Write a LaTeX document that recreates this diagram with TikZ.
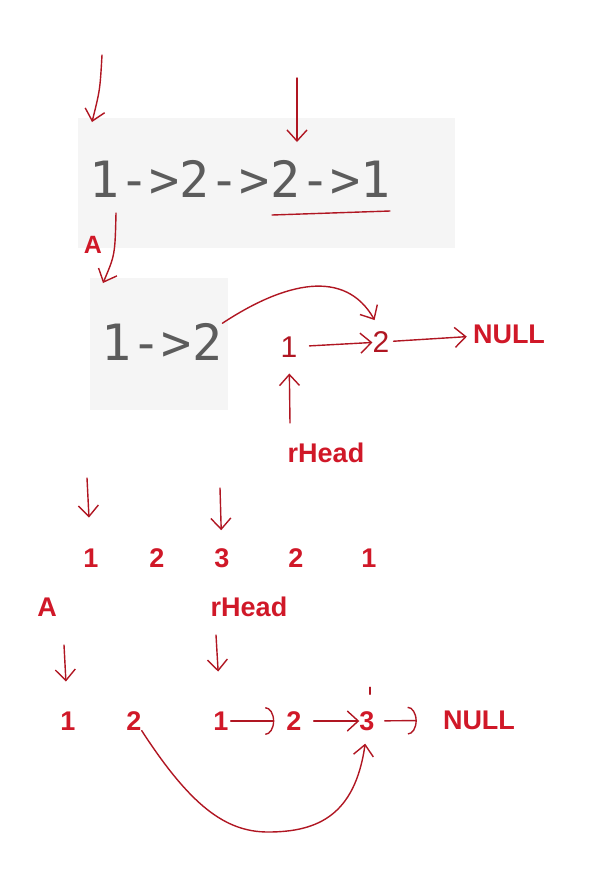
\documentclass[tikz,border=0pt]{standalone}
\usepackage{fontspec}
\setmainfont{Liberation Sans}
\newfontfamily\codefont{DejaVu Sans Mono}
\usetikzlibrary{arrows.meta,positioning}
\definecolor{inkred}{RGB}{176,22,34}
\definecolor{labelred}{RGB}{208,24,40}
\definecolor{codegray}{RGB}{92,92,92}
\definecolor{panelgray}{RGB}{245,245,245}
\tikzset{
  code text/.style={text=codegray, inner sep=0pt,
    font=\codefont\fontsize{50}{52}\selectfont},
  red label/.style={text=labelred, inner sep=0pt,
    font=\bfseries\fontsize{27}{30}\selectfont},
  hand digit/.style={text=inkred, inner sep=0pt,
    font=\fontsize{30}{32}\selectfont},
  hand line/.style={inkred, line width=1.4pt, line cap=round},
  hand arrow/.style={hand line, -{Straight Barb[length=11pt,width=20pt]}},
  hook arrow/.style={hand line, -{Arc Barb[length=9pt,width=28pt]}},
  panel/.style={fill=panelgray, draw=none}
}

\begin{document}
\begin{tikzpicture}[x=1pt,y=-1pt]
  \useasboundingbox (0,0) rectangle (590,879);
  % faint screenshot panels
  \fill[panel] (78,118) rectangle (455,248);
  \fill[panel] (90,278) rectangle (228,410);

  % original list
  \node[code text] (list) at (240,179) {1->2->2->1};
  \coordinate (headtail) at (102,55);
  \coordinate (headtip) at (92,122);
  \coordinate (midtail) at (297,78);
  \coordinate (midtip) at (297,142);
  \coordinate (ulstart) at (272,215);
  \coordinate (ulend) at (390,211);
  \draw[hand arrow] (headtail) .. controls (100,90) .. (headtip);
  \draw[hand arrow] (midtail) -- (midtip);
  \draw[hand line] (ulstart) -- (ulend);

  % split at the middle, second half reversed
  \node[red label, font=\bfseries\fontsize{25}{28}\selectfont] (A1) at (93,245) {A};
  \coordinate (atail) at (116,213);
  \coordinate (atip) at (103,283);
  \draw[hand arrow] (atail) .. controls (115,255) .. (atip);
  \node[code text] (half) at (162,342) {1->2};
  \node[hand digit] (r1) at (289,347) {1};
  \node[hand digit] (r2) at (381,342) {2};
  \node[red label] (null1) at (509,334) {NULL};
  \node[red label] (rhead1) at (326,453) {rHead};
  \coordinate (rtail) at (290,423);
  \draw[hand arrow, shorten <=12pt] (r1) -- (r2);
  \draw[hand arrow, shorten <=4pt, shorten >=6pt] (r2) -- (null1);
  \draw[hand arrow, shorten >=16pt] (rtail) -- (r1);
  \draw[hand arrow, shorten >=13pt] (half.north east)
    .. controls (285,282) and (345,268) .. (r2.north);

  % odd length: 1 2 3 2 1
  \node[red label] (s1) at (91,558) {1};
  \node[red label] (s2) at (157,558) {2};
  \node[red label] (s3) at (222,558) {3};
  \node[red label] (s4) at (296,558) {2};
  \node[red label] (s5) at (369,558) {1};
  \coordinate (s1tail) at (87,478);
  \coordinate (s3tail) at (220,488);
  \draw[hand arrow, shorten >=31pt] (s1tail) -- (s1);
  \draw[hand arrow, shorten >=18pt] (s3tail) -- (s3);
  \node[red label] (A2) at (47,607) {A};
  \node[red label] (rhead2) at (249,607) {rHead};

  % after reversing from the middle
  \node[red label] (b1) at (68,721) {1};
  \node[red label] (b2) at (134,721) {2};
  \node[red label] (c1) at (221,721) {1};
  \node[red label] (c2) at (294,721) {2};
  \node[red label] (c3) at (367,721) {3};
  \node[red label] (null2) at (479,720) {NULL};
  \coordinate (b1tail) at (64,645);
  \coordinate (c1tail) at (216,635);
  \draw[hand arrow, shorten >=30pt] (b1tail) -- (b1);
  \draw[hand arrow, shorten >=40pt] (c1tail) -- (c1);
  \draw[hook arrow, shorten <=2pt, shorten >=12pt] (c1) -- (c2);
  \draw[hand arrow, shorten <=12pt] (c2) -- (c3);
  \draw[hook arrow, shorten <=10pt, shorten >=26pt] (c3) -- (null2);
  \draw[hand line] ([shift={(3,-17)}]c3.north) -- ++(0,-7);
  \draw[hand arrow, shorten >=13pt] (b2.south east)
    .. controls (190,805) and (225,832) .. (268,832)
    .. controls (318,832) and (355,815) .. (c3.south);
\end{tikzpicture}
\end{document}
